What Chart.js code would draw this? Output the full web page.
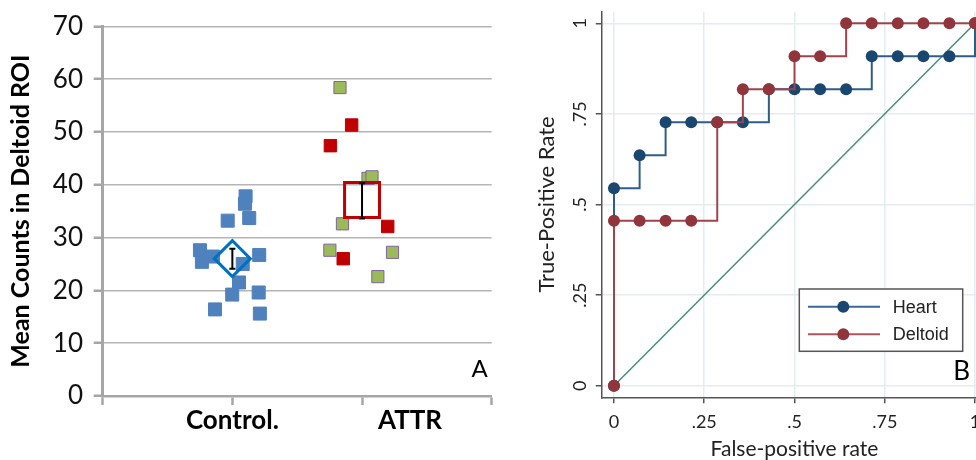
<!DOCTYPE html>
<html lang="en">
<head>
<meta charset="UTF-8">
<title>Deltoid counts and ROC curves</title>
<script src="https://cdn.jsdelivr.net/npm/chart.js"></script>
<style>
  html, body { margin: 0; padding: 0; background: #fff; overflow: hidden; }
  body { width: 976px; height: 460px; position: relative; }
  #left { position: absolute; left: 0; top: 0; width: 500px; height: 460px; }
  #right { position: absolute; left: 500px; top: 0; width: 500px; height: 460px; }
</style>
</head>
<body>
<div id="left"><canvas id="countsChart" width="500" height="460"></canvas></div>
<div id="right"><canvas id="rocChart" width="500" height="460"></canvas></div>

<script>
// ---- panel A data ----
var categories = ['Control.', 'ATTR'];
var countTicks = [0, 10, 20, 30, 40, 50, 60, 70];

var controlX = [1.102, 1.097, 0.964, 1.130, 0.750, 0.765, 0.850, 1.207, 1.080, 1.051, 0.999, 1.203, 0.866, 1.212];
var controlY = [37.8, 36.4, 33.2, 33.7, 27.6, 25.4, 26.4, 26.7, 25.0, 21.5, 19.2, 19.6, 16.4, 15.6];
var attrRedX = [1.920, 1.756, 2.198, 1.855];
var attrRedY = [51.3, 47.4, 32.1, 26.0];
var attrGreenX = [1.830, 2.046, 2.077, 1.849, 1.752, 2.235, 2.122];
var attrGreenY = [58.4, 41.2, 41.5, 32.6, 27.6, 27.2, 22.6];

var meanX = [1, 2];
var meanY = [26.0, 37.1];
var errLow = [24.1, 33.6];
var errHigh = [27.9, 40.3];

// ---- panel B data ----
var fpr = [0, 0, .071, .143, .214, .286, .357, .429, .5, .571, .643, .714, .786, .857, .929, 1];
var tprHeart = [0, .545, .636, .727, .727, .727, .727, .818, .818, .818, .818, .909, .909, .909, .909, 1];
var tprDeltoid = [0, .455, .455, .455, .455, .727, .818, .818, .909, .909, 1, 1, 1, 1, 1, 1];
var refLine = [0, 1];
var rocTicks = [0, .25, .5, .75, 1];
var rocTickLabels = ['0', '.25', '.5', '.75', '1'];

function zip(xs, ys) {
    return xs.map(function (x, i) { return { x: x, y: ys[i] }; });
}

// ---------- panel A ----------
var catTickPos = [1, 2.37];   // where the category names sit on the axis
var xTickPos = [0, 1, 2, 2.37, 3];

var panelLetterA = {
    id: 'panelLetterA',
    afterDraw: function (chart) {
        var ctx = chart.ctx, a = chart.chartArea;
        ctx.save();
        ctx.font = '24px Lato';
        ctx.fillStyle = '#000';
        ctx.textAlign = 'right';
        ctx.textBaseline = 'alphabetic';
        ctx.fillText('A', a.right - 4, a.bottom - 19.3);
        ctx.restore();
    }
};

var countsChart = new Chart(document.getElementById('countsChart'), {
    type: 'scatter',
    data: {
        datasets: [
            {
                label: 'Control SE',
                data: zip([meanX[0], meanX[0]], [errLow[0], errHigh[0]]),
                showLine: true, borderColor: '#000', borderWidth: 2,
                pointStyle: 'line', pointRadius: 3, pointBorderColor: '#000', pointBorderWidth: 2
            },
            {
                label: 'ATTR SE',
                data: zip([meanX[1], meanX[1]], [errLow[1], errHigh[1]]),
                showLine: true, borderColor: '#000', borderWidth: 2,
                pointStyle: 'line', pointRadius: 3, pointBorderColor: '#000', pointBorderWidth: 2
            },
            {
                label: 'Control mean',
                data: zip([meanX[0]], [meanY[0]]),
                pointStyle: 'rectRot', pointRadius: 18,
                pointBackgroundColor: 'rgba(0,0,0,0)', pointBorderColor: '#0070c0', pointBorderWidth: 3
            },
            {
                label: 'ATTR mean',
                data: zip([meanX[1]], [meanY[1]]),
                pointStyle: 'rect', pointRadius: 24.7,
                pointBackgroundColor: 'rgba(0,0,0,0)', pointBorderColor: '#c00000', pointBorderWidth: 3
            },
            {
                label: 'ATTR green',
                data: zip(attrGreenX, attrGreenY),
                pointStyle: 'rect', pointRadius: 8.6,
                pointBackgroundColor: '#9bbb59', pointBorderColor: '#8064a2', pointBorderWidth: 1
            },
            {
                label: 'ATTR red',
                data: zip(attrRedX, attrRedY),
                pointStyle: 'rect', pointRadius: 8.8,
                pointBackgroundColor: '#c00000', pointBorderColor: '#c00000', pointBorderWidth: 1
            },
            {
                label: 'Control',
                data: zip(controlX, controlY),
                pointStyle: 'rect', pointRadius: 9.2,
                pointBackgroundColor: '#4f81bd', pointBorderColor: '#4f81bd', pointBorderWidth: 1
            }
        ]
    },
    options: {
        responsive: false,
        animation: false,
        layout: { autoPadding: false, padding: { top: 25, right: 8.3, left: 0, bottom: 0 } },
        plugins: { legend: { display: false }, tooltip: { enabled: false } },
        scales: {
            x: {
                type: 'linear', min: 0, max: 3,
                afterBuildTicks: function (s) { s.ticks = xTickPos.map(function (v) { return { value: v }; }); },
                afterFit: function (s) { s.height = 64; },
                ticks: {
                    autoSkip: false, maxRotation: 0, padding: 0, color: '#000',
                    font: { family: 'Lato', size: 26, weight: 'bold' },
                    callback: function (v) {
                        var i = catTickPos.indexOf(v);
                        return i >= 0 ? categories[i] : '';
                    }
                },
                grid: {
                    drawOnChartArea: false, tickLength: 9, tickWidth: 2.5,
                    tickColor: function (c) { return c.tick && c.tick.value === catTickPos[1] ? 'rgba(0,0,0,0)' : '#a6a6a6'; }
                },
                border: { color: '#a6a6a6', width: 2.5 }
            },
            y: {
                min: 0, max: 70,
                afterBuildTicks: function (s) { s.ticks = countTicks.map(function (v) { return { value: v }; }); },
                afterFit: function (s) { s.width = 102.7; },
                ticks: { padding: 10.7, color: '#111', font: { family: 'Lato', size: 26 } },
                grid: { color: '#b5b5b5', lineWidth: 1.5, tickLength: 9, tickColor: '#a6a6a6', tickWidth: 2.5 },
                border: { color: '#a6a6a6', width: 3 },
                title: {
                    display: true, text: 'Mean Counts in Deltoid ROI', color: '#000',
                    font: { family: 'Lato', size: 25, weight: 'bold' },
                    padding: { top: 5.7, bottom: 0 }
                }
            }
        }
    },
    plugins: [panelLetterA]
});

// ---------- panel B ----------
var rocExtras = {
    id: 'rocExtras',
    afterDraw: function (chart) {
        var ctx = chart.ctx, a = chart.chartArea, ys = chart.scales.y;
        ctx.save();

        // Stata style vertical tick labels
        ctx.font = '18px Lato';
        ctx.fillStyle = '#222';
        ctx.textAlign = 'center';
        ctx.textBaseline = 'middle';
        rocTicks.forEach(function (v, i) {
            ctx.save();
            ctx.translate(a.left - 21.7, ys.getPixelForValue(v));
            ctx.rotate(-Math.PI / 2);
            ctx.fillText(rocTickLabels[i], 0, 0);
            ctx.restore();
        });

        // legend box
        var bx = a.left + 197.6, by = a.top + 277.3, bw = 163.4, bh = 62.3;
        ctx.fillStyle = '#fff';
        ctx.fillRect(bx, by, bw, bh);
        ctx.strokeStyle = '#555';
        ctx.lineWidth = 1.5;
        ctx.strokeRect(bx, by, bw, bh);

        var entries = [
            { text: 'Heart', line: '#3a6794', dot: '#1a476f', dy: 17.7 },
            { text: 'Deltoid', line: '#b0545d', dot: '#90353b', dy: 45.3 }
        ];
        entries.forEach(function (e) {
            var yy = by + e.dy;
            ctx.strokeStyle = e.line;
            ctx.lineWidth = 2;
            ctx.beginPath();
            ctx.moveTo(bx + 8.7, yy);
            ctx.lineTo(bx + 80.7, yy);
            ctx.stroke();
            ctx.fillStyle = e.dot;
            ctx.beginPath();
            ctx.arc(bx + 44, yy, 6, 0, Math.PI * 2);
            ctx.fill();
            ctx.fillStyle = '#222';
            ctx.font = '18px "Liberation Sans"';
            ctx.textAlign = 'left';
            ctx.textBaseline = 'middle';
            ctx.fillText(e.text, bx + 93.4, yy + 1);
        });

        // panel letter
        ctx.font = '26px Lato';
        ctx.fillStyle = '#000';
        ctx.textAlign = 'right';
        ctx.textBaseline = 'alphabetic';
        ctx.fillText('B', a.right - 17.3, a.bottom - 17.3);
        ctx.restore();
    }
};

var rocChart = new Chart(document.getElementById('rocChart'), {
    type: 'scatter',
    data: {
        datasets: [
            {
                label: 'Reference',
                data: zip(refLine, refLine),
                showLine: true, borderColor: '#4a8c7c', borderWidth: 1.5, pointRadius: 0, order: 2
            },
            {
                label: 'Deltoid',
                data: zip(fpr, tprDeltoid),
                showLine: true, stepped: true, borderColor: '#a2434c', borderWidth: 2,
                pointRadius: 6, pointBackgroundColor: '#90353b', pointBorderColor: '#90353b', pointBorderWidth: 0,
                order: 0
            },
            {
                label: 'Heart',
                data: zip(fpr, tprHeart),
                showLine: true, stepped: true, borderColor: '#2f5d8a', borderWidth: 2,
                pointRadius: 6, pointBackgroundColor: '#1a476f', pointBorderColor: '#1a476f', pointBorderWidth: 0,
                order: 1
            }
        ]
    },
    options: {
        responsive: false,
        animation: false,
        layout: { autoPadding: false, padding: { top: 11.7, right: 12.7, left: 0, bottom: 0 } },
        plugins: { legend: { display: false }, tooltip: { enabled: false } },
        scales: {
            x: {
                type: 'linear', min: -0.034, max: 1.034,
                afterBuildTicks: function (s) { s.ticks = rocTicks.map(function (v) { return { value: v }; }); },
                afterFit: function (s) { s.height = 62.7; },
                ticks: {
                    autoSkip: false, maxRotation: 0, padding: 7.6, color: '#222',
                    font: { family: 'Lato', size: 18 },
                    callback: function (v) { return rocTickLabels[rocTicks.indexOf(v)]; }
                },
                grid: { color: '#e4ecef', lineWidth: 1.5, tickLength: 6, tickColor: '#555', tickWidth: 1.5 },
                border: { color: '#555', width: 1.5 },
                title: {
                    display: true, text: 'False-positive rate', color: '#222',
                    font: { family: 'Lato', size: 21, lineHeight: 1 },
                    padding: { top: 0, bottom: 0 }
                }
            },
            y: {
                min: -0.032, max: 1.032,
                afterBuildTicks: function (s) { s.ticks = rocTicks.map(function (v) { return { value: v }; }); },
                afterFit: function (s) { s.width = 101.7; },
                ticks: { display: false },
                grid: { color: '#e4ecef', lineWidth: 1.5, tickLength: 6, tickColor: '#555', tickWidth: 1.5 },
                border: { color: '#555', width: 1.5 },
                title: {
                    display: true, text: 'True-Positive Rate', color: '#222',
                    font: { family: 'Lato', size: 22 },
                    padding: { top: 33.5, bottom: 0 }
                }
            }
        }
    },
    plugins: [rocExtras]
});
</script>
</body>
</html>
